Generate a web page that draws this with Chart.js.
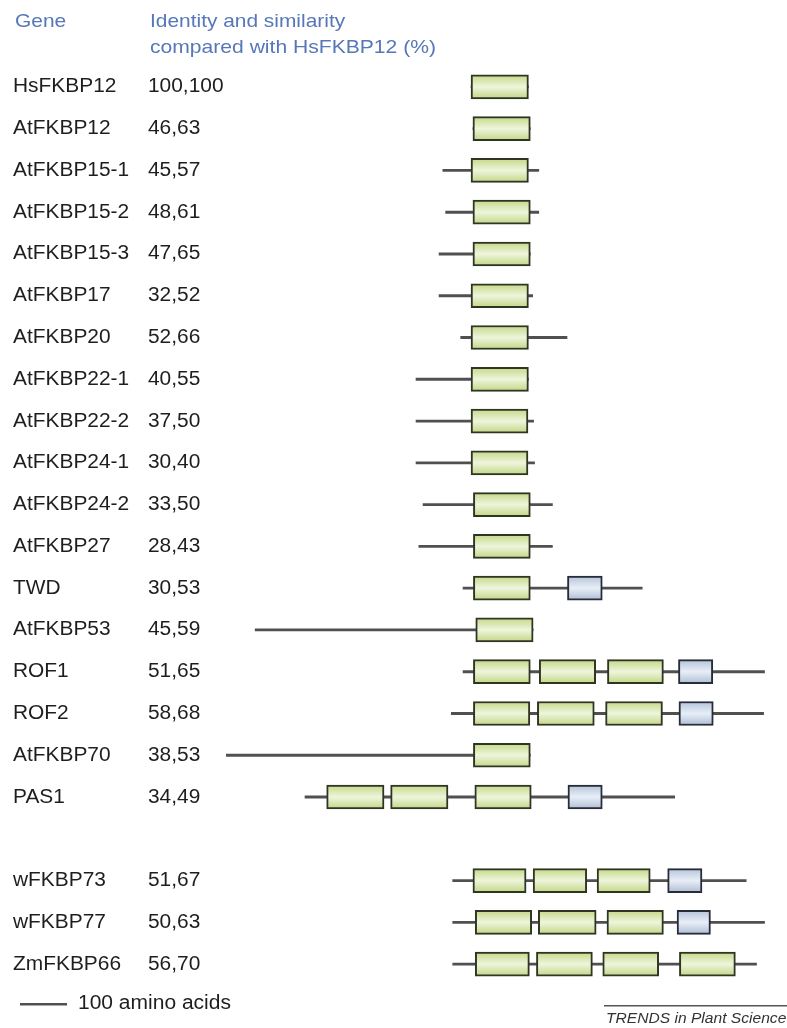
<!DOCTYPE html>
<html>
<head>
<meta charset="utf-8">
<script src="https://cdn.jsdelivr.net/npm/chart.js@4/dist/chart.umd.min.js"></script>
<style>
  html, body { margin: 0; padding: 0; background: #fff; }
  #wrap { width: 787px; height: 1028px; position: relative; }
</style>
</head>
<body>
<div id="wrap"><canvas id="domainChart"></canvas></div>
<script>
// genes, top to bottom ('' is the gap before the cereal proteins)
const genes = ['HsFKBP12', 'AtFKBP12', 'AtFKBP15-1', 'AtFKBP15-2', 'AtFKBP15-3', 'AtFKBP17',
  'AtFKBP20', 'AtFKBP22-1', 'AtFKBP22-2', 'AtFKBP24-1', 'AtFKBP24-2', 'AtFKBP27', 'TWD',
  'AtFKBP53', 'ROF1', 'ROF2', 'AtFKBP70', 'PAS1', '', 'wFKBP73', 'wFKBP77', 'ZmFKBP66'];

// identity, similarity vs HsFKBP12 (%)
const identity = ['100,100', '46,63', '45,57', '48,61', '47,65', '32,52', '52,66', '40,55',
  '37,50', '30,40', '33,50', '28,43', '30,53', '45,59', '51,65', '58,68', '38,53', '34,49',
  '', '51,67', '50,63', '56,70'];

// whole protein, aligned on the FKBP12-like domain (amino acids)
const proteinSpan = [[521, 643], [525, 647], [461, 665], [467, 665], [453, 647], [453, 652],
  [499, 725], [404, 643], [404, 654], [404, 656], [419, 694], [410, 694], [504, 885],
  [62, 653], [504, 1145], [479, 1143], [0, 647], [168, 954], null,
  [482, 1106], [482, 1145], [482, 1128]];

// FKBP domains (green), per gene
const fkbpDomains = [
  [[521, 643]], [[525, 647]], [[521, 643]], [[525, 647]], [[525, 647]], [[521, 643]],
  [[521, 643]], [[521, 643]], [[521, 642]], [[521, 642]], [[526, 647]], [[526, 647]],
  [[526, 647]], [[531, 653]],
  [[526, 647], [666, 786], [811, 930]],
  [[526, 646], [662, 783], [807, 928]],
  [[526, 647]],
  [[214, 336], [350, 472], [529, 649]],
  [],
  [[525, 638], [653, 767], [789, 902]],
  [[530, 650], [664, 787], [810, 930]],
  [[530, 645], [660, 779], [801, 920], [964, 1083]]
];

// TPR domains (blue), per gene
const tprDomains = [null, null, null, null, null, null, null, null, null, null, null, null,
  [726, 800], null, [962, 1035], [963, 1036], null, [727, 800], null,
  [939, 1012], [959, 1030], null];

const scaleBarAA = 100;

function boxFill(top, mid, bot) {
  return function(c) {
    const y = c.chart.scales.y;
    if (!y || c.type !== 'data') return mid;
    const cy = y.getPixelForValue(c.dataIndex);
    if (!isFinite(cy)) return mid;
    const g = c.chart.ctx.createLinearGradient(0, cy - 12, 0, cy + 12);
    g.addColorStop(0, top);
    g.addColorStop(0.5, mid);
    g.addColorStop(1, bot);
    return g;
  };
}

const greenFill = boxFill('#c4d886', '#eef5dc', '#c2d684');
const blueFill = boxFill('#b4c4da', '#e8eef7', '#aebdd3');

const datasets = [];
for (let k = 0; k < 4; k++) {
  datasets.push({
    label: 'FKBP domain ' + (k + 1),
    data: fkbpDomains.map(d => d[k] || null),
    backgroundColor: greenFill,
    borderColor: '#2f3523',
    borderWidth: 2,
    borderSkipped: false,
    barThickness: 24,
    order: 1
  });
}
datasets.push({
  label: 'TPR domain',
  data: tprDomains,
  backgroundColor: blueFill,
  borderColor: '#262c38',
  borderWidth: 2,
  borderSkipped: false,
  barThickness: 24,
  order: 1
});
datasets.push({
  label: 'Protein',
  data: proteinSpan,
  backgroundColor: '#505050',
  borderWidth: 0,
  barThickness: 2.2,
  order: 2
});

// text in the figure is a little wider than plain Arial
function wideText(ctx, str, x, y, sx) {
  ctx.save();
  ctx.translate(x, y);
  ctx.scale(sx, 1);
  ctx.fillText(str, 0, 0);
  ctx.restore();
}

const labelsPlugin = {
  id: 'geneLabels',
  afterDraw(chart) {
    const ctx = chart.ctx;
    const y = chart.scales.y;
    const x = chart.scales.x;
    ctx.save();
    ctx.textBaseline = 'alphabetic';
    ctx.fillStyle = '#5677b8';
    ctx.font = '19px "Liberation Sans", Arial, sans-serif';
    wideText(ctx, 'Gene', 15, 27, 1.1);
    wideText(ctx, 'Identity and similarity', 150, 27, 1.1);
    wideText(ctx, 'compared with HsFKBP12 (%)', 150, 53, 1.11);

    ctx.fillStyle = '#1e1e1e';
    ctx.font = '20px "Liberation Sans", Arial, sans-serif';
    ctx.textBaseline = 'middle';
    genes.forEach((g, i) => {
      const py = y.getPixelForValue(i);
      wideText(ctx, g, 13, py, 1.045);
      wideText(ctx, identity[i], 148, py, 1.045);
    });

    // scale bar
    const len = x.getPixelForValue(scaleBarAA) - x.getPixelForValue(0);
    ctx.fillStyle = '#505050';
    ctx.fillRect(20, 1003, len, 2.5);
    ctx.fillStyle = '#1e1e1e';
    wideText(ctx, '100 amino acids', 78, 1003, 1.05);

    // journal tag
    ctx.fillStyle = '#555';
    ctx.fillRect(604, 1005, 183, 1.5);
    ctx.font = 'italic 15px "Liberation Sans", Arial, sans-serif';
    ctx.textBaseline = 'alphabetic';
    ctx.fillStyle = '#333';
    wideText(ctx, 'TRENDS in Plant Science', 606, 1023, 1.04);
    ctx.restore();
  }
};

new Chart(document.getElementById('domainChart'), {
  type: 'bar',
  data: { labels: genes, datasets: datasets },
  options: {
    indexAxis: 'y',
    responsive: true,
    maintainAspectRatio: false,
    animation: false,
    layout: { padding: { left: 226, right: 6, top: 66, bottom: 43 } },
    datasets: { bar: { grouped: false } },
    scales: {
      x: { type: 'linear', min: 0, max: 1180, display: false },
      y: { type: 'category', display: false }
    },
    plugins: {
      legend: { display: false },
      tooltip: { enabled: false }
    }
  },
  plugins: [labelsPlugin]
});
</script>
</body>
</html>
